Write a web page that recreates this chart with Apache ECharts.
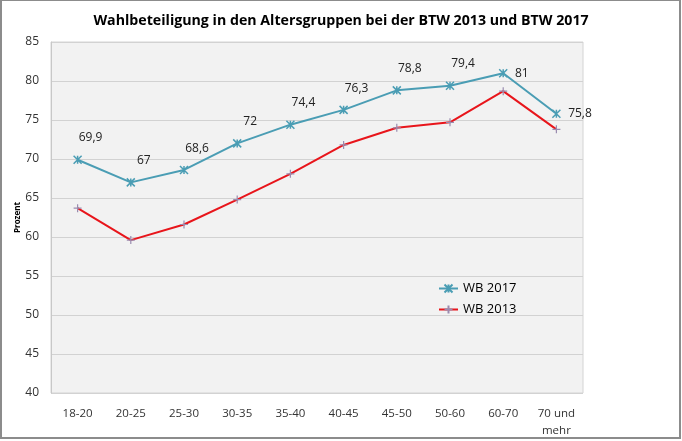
<!DOCTYPE html>
<html><head><meta charset="utf-8">
<script src="https://cdn.jsdelivr.net/npm/echarts@6/dist/echarts.min.js"></script>
<style>html,body{margin:0;padding:0;background:#fff}
#c{position:absolute;left:0;top:0;width:682px;height:441px}
#f{position:absolute;left:0;top:0;width:681px;height:439px;box-sizing:border-box;border:2px solid #8c8c8c;border-top-width:1px;pointer-events:none}</style>
</head><body><div id="c"></div><div id="f"></div>
<script>
const categories = ['18-20','20-25','25-30','30-35','35-40','40-45','45-50','50-60','60-70','70 und\nmehr'];
const wb2017 = [69.9, 67, 68.6, 72, 74.4, 76.3, 78.8, 79.4, 81, 75.8];
const wb2013 = [63.7, 59.6, 61.6, 64.8, 68.1, 71.8, 74.0, 74.7, 78.7, 73.8];
const yTicks = [40, 45, 50, 55, 60, 65, 70, 75, 80, 85];

const FONT = '"Open Sans", "Liberation Sans", sans-serif';
const starPath = 'path://M0,0L10,10M10,0L0,10M5,0L5,10';
const plusPath = 'path://M5,0L5,10M0,5L10,5';
const chart = echarts.init(document.getElementById('c'));
chart.setOption({
  animation: false,
  textStyle: {fontFamily: FONT},
  title: {text: 'Wahlbeteiligung in den Altersgruppen bei der BTW 2013 und BTW 2017', left: 'center', top: 9,
    textStyle: {fontSize: 14.2, fontWeight: 'bold', color: '#000', fontFamily: FONT}},
  grid: {left: 51, right: 99, top: 42, bottom: 48, show: true, backgroundColor: '#f2f2f2', borderColor: '#d4d4d4', borderWidth: 1},
  legend: {orient: 'vertical', left: 433, top: 277, itemGap: 8, itemWidth: 19, itemHeight: 10,
    textStyle: {fontSize: 13, color: '#000', fontFamily: FONT},
    data: ['WB 2017', 'WB 2013']},
  xAxis: {type: 'category', data: categories, boundaryGap: true,
    axisLine: {show: false}, axisTick: {show: false},
    axisLabel: {fontSize: 11.5, color: '#333', margin: 12, lineHeight: 17}},
  yAxis: {type: 'value', min: 40, max: 85, interval: 5, name: 'Prozent', nameLocation: 'middle', nameGap: 29,
    nameMoveOverlap: false,
    nameTextStyle: {fontSize: 8, fontWeight: 'bold', color: '#000'},
    axisLine: {show: true, lineStyle: {color: '#c8c8c8'}}, axisTick: {show: false},
    axisLabel: {fontSize: 12, color: '#333', margin: 12, formatter: v => yTicks.includes(v) ? String(v) : ''},
    splitLine: {lineStyle: {color: '#d2d2d2', width: 1}}},
  series: [
    {name: 'WB 2017', type: 'line', symbol: starPath, symbolSize: 8,
      lineStyle: {color: '#4a9db4', width: 2}, itemStyle: {color: '#4a9db4', borderColor: '#4a9db4', borderWidth: 1.5},
      label: {show: true, fontSize: 12, color: '#222', formatter: p => String(p.value).replace('.', ','),
        position: 'top', offset: [13, -6]},
      data: wb2017.map((v, i) => i >= 8 ? {value: v, label: {position: 'right', offset: [2, 0]}} : v)},
    {name: 'WB 2013', type: 'line', data: wb2013, symbol: plusPath, symbolSize: 8,
      lineStyle: {color: '#e8151b', width: 2}, itemStyle: {color: '#9a8cb0', borderColor: '#9a8cb0', borderWidth: 1.2}}
  ]
});
</script></body></html>
